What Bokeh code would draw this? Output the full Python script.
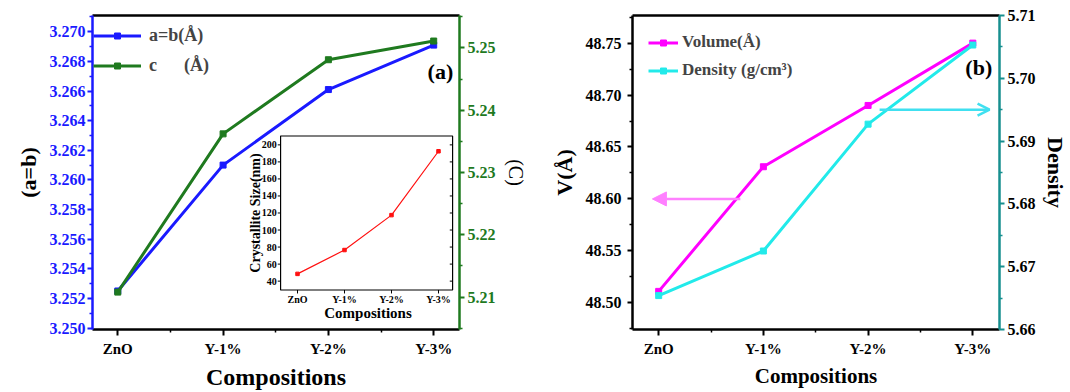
import math
from bokeh.plotting import figure
from bokeh.models import (Range1d, LinearAxis, FixedTicker, Legend, LegendItem,
                          Arrow, NormalHead, OpenHead, PrintfTickFormatter)
from bokeh.layouts import row
from bokeh.embed import file_html
from bokeh.resources import INLINE
from bokeh.core.properties import value

# ---------------- data ----------------
categories = ["ZnO", "Y-1%", "Y-2%", "Y-3%"]
a_b = [3.2525, 3.2610, 3.2661, 3.2691]
c_vals = [5.2108, 5.2362, 5.2481, 5.2511]
crystallite = [48.5, 76.5, 117.5, 192.5]
volume = [48.511, 48.631, 48.690, 48.750]
density = [5.6654, 5.6725, 5.6927, 5.7053]

ab_ticks = [3.250, 3.252, 3.254, 3.256, 3.258, 3.260, 3.262, 3.264, 3.266, 3.268, 3.270]
c_ticks = [5.21, 5.22, 5.23, 5.24, 5.25]
inset_ticks = [40, 60, 80, 100, 120, 140, 160, 180, 200]
vol_ticks = [48.50, 48.55, 48.60, 48.65, 48.70, 48.75]
dens_ticks = [5.66, 5.67, 5.68, 5.69, 5.70, 5.71]

SERIF = "Liberation Serif"
BLUE = "#1a1aff"
GREEN = "#1f7a1f"
MAGENTA = "#ff00ff"
CYAN = "#22eaea"
RED = "#ff1010"

xs = list(range(len(categories)))


def minors(ticks):
    step = ticks[1] - ticks[0]
    return [t + step / 2 for t in ticks[:-1]] + [ticks[0] - step / 2, ticks[-1] + step / 2]


def style_axis(ax, color, label_color="black", size="15px"):
    ax.axis_line_color = color
    ax.axis_line_width = 2.5
    ax.major_tick_line_color = color
    ax.minor_tick_line_color = color
    ax.major_tick_line_width = 2
    ax.minor_tick_line_width = 1.5
    ax.major_tick_out = 5
    ax.major_tick_in = 0
    ax.minor_tick_out = 3
    ax.minor_tick_in = 0
    ax.major_label_text_font = SERIF
    ax.major_label_text_font_style = "bold"
    ax.major_label_text_font_size = size
    ax.major_label_text_color = label_color
    ax.axis_label_text_font = SERIF
    ax.axis_label_text_color = "black"


def top_border(p):
    ax = LinearAxis(ticker=FixedTicker(ticks=[]), axis_line_color="black",
                    axis_line_width=2.5, major_tick_out=0, minor_tick_out=0,
                    major_label_standoff=0)
    p.add_layout(ax, "above")


def x_axis(p, label, label_size):
    ax = p.xaxis[0]
    ax.ticker = FixedTicker(ticks=xs, minor_ticks=[0.5, 1.5, 2.5])
    ax.major_label_overrides = {i: c for i, c in enumerate(categories)}
    style_axis(ax, "black")
    ax.major_tick_out = 6
    ax.major_label_standoff = 5
    ax.axis_label = label
    ax.axis_label_text_font_size = label_size
    ax.axis_label_text_font_style = "bold"
    ax.axis_label_standoff = 4


# ---------------- left panel ----------------
p1 = figure(width=535, height=392, x_range=Range1d(-0.24, 3.245),
            y_range=Range1d(3.2499, 3.2711), output_backend="svg",
            toolbar_location=None, min_border_left=92, min_border_right=76,
            min_border_top=15, min_border_bottom=59)
p1.extra_y_ranges = {"c": Range1d(5.2048, 5.2552), "iy": Range1d(-16.8, 351.9)}
p1.extra_x_ranges = {"ix": Range1d(-4.362, 3.447)}
p1.grid.visible = False
p1.outline_line_color = None

x_axis(p1, "Compositions", "24px")

ya = p1.yaxis[0]
ya.ticker = FixedTicker(ticks=ab_ticks, minor_ticks=minors(ab_ticks))
ya.formatter = PrintfTickFormatter(format="%.3f")
style_axis(ya, BLUE, BLUE, "16px")
ya.major_label_standoff = 2
ya.axis_label = "(a=b)"
ya.axis_label_text_font_size = "22px"
ya.axis_label_text_font_style = "bold"
ya.axis_label_standoff = 6

cax = LinearAxis(y_range_name="c", ticker=FixedTicker(ticks=c_ticks, minor_ticks=minors(c_ticks)),
                 formatter=PrintfTickFormatter(format="%.2f"))
style_axis(cax, GREEN, GREEN, "16px")
cax.major_label_standoff = 3
cax.axis_label = "(C)"
cax.axis_label_text_font_size = "20px"
cax.axis_label_text_font_style = "normal"
cax.axis_label_standoff = 6
cax.axis_label_orientation = "vertical"
p1.add_layout(cax, "right")
top_border(p1)

l1 = p1.line(xs, a_b, line_color=BLUE, line_width=3)
s1 = p1.scatter(xs, a_b, marker="square", size=6, color=BLUE)
l2 = p1.line(xs, c_vals, line_color=GREEN, line_width=3, y_range_name="c")
s2 = p1.scatter(xs, c_vals, marker="square", size=6, color=GREEN, y_range_name="c")

leg1 = Legend(items=[LegendItem(label="a=b(Å)", renderers=[l1, s1]),
                     LegendItem(label="c\u00a0\u00a0\u00a0\u00a0\u00a0\u00a0(Å)", renderers=[l2, s2])],
              location=(1, 249), border_line_color=None, background_fill_alpha=0,
              label_text_font=SERIF, label_text_font_style="bold", label_text_font_size="18px",
              glyph_width=48, glyph_height=15, label_height=30, spacing=0, padding=2,
              margin=0, label_standoff=8)
p1.add_layout(leg1)

p1.text([3.064], [3.2673], text=["(a)"], text_font=value(SERIF), text_font_size="22px",
        text_font_style="bold", text_align="center", text_baseline="middle", text_color="black")

# inset drawn in its own ranges
p1.quad(left=[-0.36], right=[3.3], bottom=[29.6], top=[210.4], fill_color="white",
        line_color="black", line_width=1.2, x_range_name="ix", y_range_name="iy")
p1.segment(x0=[-0.36] * len(inset_ticks), x1=[-0.42] * len(inset_ticks), y0=inset_ticks, y1=inset_ticks,
           line_color="black", line_width=1, x_range_name="ix", y_range_name="iy")
p1.segment(x0=[3.3] * len(inset_ticks), x1=[3.24] * len(inset_ticks), y0=inset_ticks, y1=inset_ticks,
           line_color="black", line_width=1, x_range_name="ix", y_range_name="iy")
p1.segment(x0=xs, x1=xs, y0=[29.6] * 4, y1=[25.5] * 4,
           line_color="black", line_width=1, x_range_name="ix", y_range_name="iy")
p1.text([-0.44] * len(inset_ticks), inset_ticks, text=[str(t) for t in inset_ticks],
        text_font=value(SERIF), text_font_size="10px", text_font_style="bold",
        text_align="right", text_baseline="middle", x_range_name="ix", y_range_name="iy")
p1.text(xs, [19] * 4, text=categories, text_font=value(SERIF), text_font_size="10px",
        text_font_style="bold", text_align="center", text_baseline="middle",
        x_range_name="ix", y_range_name="iy")
p1.text([-0.9], [120], text=["Crystallite Size(nm)"], angle=math.pi / 2,
        text_font=value(SERIF), text_font_size="14px", text_font_style="bold",
        text_align="center", text_baseline="middle", x_range_name="ix", y_range_name="iy")
p1.text([1.5], [3], text=["Compositions"], text_font=value(SERIF), text_font_size="15px",
        text_font_style="bold", text_align="center", text_baseline="middle",
        x_range_name="ix", y_range_name="iy")
p1.line(xs, crystallite, line_color=RED, line_width=1.2, x_range_name="ix", y_range_name="iy")
p1.scatter(xs, crystallite, marker="square", size=3.5, color=RED, x_range_name="ix", y_range_name="iy")

# ---------------- right panel ----------------
p2 = figure(width=535, height=392, x_range=Range1d(-0.25, 3.255),
            y_range=Range1d(48.4743, 48.7766), output_backend="svg",
            toolbar_location=None, min_border_left=97, min_border_right=70,
            min_border_top=15, min_border_bottom=59)
p2.extra_y_ranges = {"density": Range1d(5.66, 5.71)}
p2.grid.visible = False
p2.outline_line_color = None

x_axis(p2, "Compositions", "21px")

va = p2.yaxis[0]
va.ticker = FixedTicker(ticks=vol_ticks, minor_ticks=minors(vol_ticks))
va.formatter = PrintfTickFormatter(format="%.2f")
style_axis(va, "black", "black", "16px")
va.major_label_standoff = 6
va.axis_label = "V(Å)"
va.axis_label_text_font_size = "22px"
va.axis_label_text_font_style = "bold"
va.axis_label_standoff = 6

dax = LinearAxis(y_range_name="density", ticker=FixedTicker(ticks=dens_ticks, minor_ticks=minors(dens_ticks)),
                 formatter=PrintfTickFormatter(format="%.2f"))
style_axis(dax, "#178f8f", "black", "16px")
dax.major_label_standoff = 3
dax.axis_label = "Density"
dax.axis_label_text_font_size = "22px"
dax.axis_label_text_font_style = "bold"
dax.axis_label_standoff = 4
dax.axis_label_orientation = "vertical"
p2.add_layout(dax, "right")
top_border(p2)

l3 = p2.line(xs, volume, line_color=MAGENTA, line_width=3)
s3 = p2.scatter(xs, volume, marker="square", size=6, color=MAGENTA)
l4 = p2.line(xs, density, line_color=CYAN, line_width=3, y_range_name="density")
s4 = p2.scatter(xs, density, marker="square", size=6, color=CYAN, y_range_name="density")

leg2 = Legend(items=[LegendItem(label="Volume(Å)", renderers=[l3, s3]),
                     LegendItem(label="Density (g/cm³)", renderers=[l4, s4])],
              location=(16, 245), border_line_color=None, background_fill_alpha=0,
              label_text_font=SERIF, label_text_font_style="bold", label_text_font_size="17px",
              glyph_width=30, glyph_height=15, label_height=28, spacing=0, padding=2,
              margin=0, label_standoff=4)
p2.add_layout(leg2)

p2.add_layout(Arrow(end=NormalHead(size=14, fill_color="#ff80ff", line_color="#ff80ff"),
                    x_start=0.78, y_start=48.60, x_end=-0.06, y_end=48.60,
                    line_color="#ff80ff", line_width=2.5))
p2.add_layout(Arrow(end=OpenHead(size=12, line_color="#40e0f0", line_width=2.5),
                    x_start=2.11, y_start=5.695, x_end=3.16, y_end=5.695, y_range_name="density",
                    line_color="#40e0f0", line_width=2.5))

p2.text([3.057], [48.727], text=["(b)"], text_font=value(SERIF), text_font_size="22px",
        text_font_style="bold", text_align="center", text_baseline="middle", text_color="black")

layout = row(p1, p2, spacing=0)
open("out.html", "w").write(file_html(layout, INLINE))
